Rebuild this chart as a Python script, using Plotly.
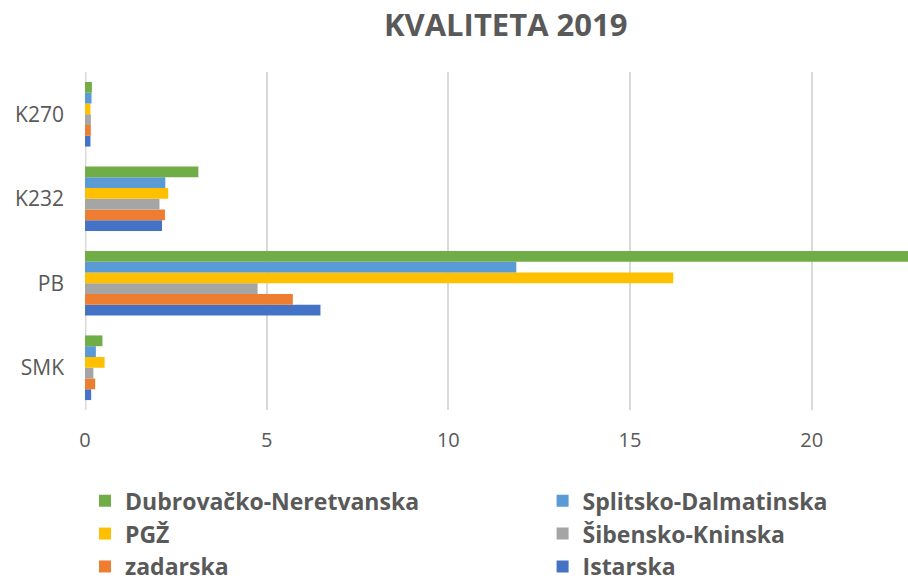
import plotly.graph_objects as go

categories = ["SMK", "PB", "K232", "K270"]

series_names = ["Istarska", "zadarska", "Šibensko-Kninska", "PGŽ", "Splitsko-Dalmatinska", "Dubrovačko-Neretvanska"]
istarska = [0.17, 6.48, 2.12, 0.15]
zadarska = [0.28, 5.72, 2.20, 0.16]
sibensko = [0.23, 4.75, 2.05, 0.16]
pgz = [0.54, 16.19, 2.29, 0.15]
splitsko = [0.30, 11.87, 2.21, 0.18]
dubrovacko = [0.48, 23.5, 3.12, 0.19]

values = [istarska, zadarska, sibensko, pgz, splitsko, dubrovacko]
colors = ["#4472C4", "#ED7D31", "#A5A5A5", "#FFC000", "#5B9BD5", "#70AD47"]
legend_ids = ["legend2", "legend", "legend2", "legend", "legend2", "legend"]
ranks = [3, 3, 2, 2, 1, 1]

fig = go.Figure()
for name, vals, col, lg, rk in zip(series_names, values, colors, legend_ids, ranks):
    fig.add_trace(go.Bar(
        y=categories, x=vals, name=name, orientation="h",
        marker=dict(color=col, line=dict(width=0)), legend=lg, legendrank=rk,
    ))

legend_font = dict(size=23, color="#595959", family="Open Sans", weight="bold")
fig.update_layout(
    width=908, height=583,
    barmode="group", bargap=0.235, bargroupgap=0,
    plot_bgcolor="white", paper_bgcolor="white",
    margin=dict(l=85, r=0, t=72, b=173),
    font=dict(family="Open Sans", color="#595959"),
    title=dict(text="<b>KVALITETA 2019</b>", x=0.557, xanchor="center", y=0.957, yanchor="middle",
               font=dict(size=31, color="#595959", family="Open Sans")),
    xaxis=dict(range=[0, 22.65], tickvals=[0, 5, 10, 15, 20], showgrid=True, gridcolor="#D9D9D9",
               gridwidth=1.5, zeroline=False, showline=False, tickfont=dict(size=20, color="#595959"),
               ticks="", ticklabelstandoff=16),
    yaxis=dict(showgrid=False, zeroline=False, showline=False, ticks="", tickfont=dict(size=21, color="#595959"),
               ticklabelstandoff=20),
    legend=dict(orientation="v", x=0.0, xanchor="left", y=0.178, yanchor="top", yref="container",
                font=legend_font, itemwidth=30, tracegroupgap=0, traceorder="normal"),
    legend2=dict(orientation="v", x=0.556, xanchor="left", y=0.178, yanchor="top", yref="container",
                 font=legend_font, itemwidth=30, tracegroupgap=0, traceorder="normal"),
    showlegend=True,
)
fig.add_shape(type="line", xref="x", yref="paper", x0=0, x1=0, y0=0, y1=1,
              line=dict(color="#D9D9D9", width=3), layer="below")

fig.write_html("out.html", config={"displayModeBar": False},
               post_script="document.body.style.margin='0';document.body.style.padding='0';")
